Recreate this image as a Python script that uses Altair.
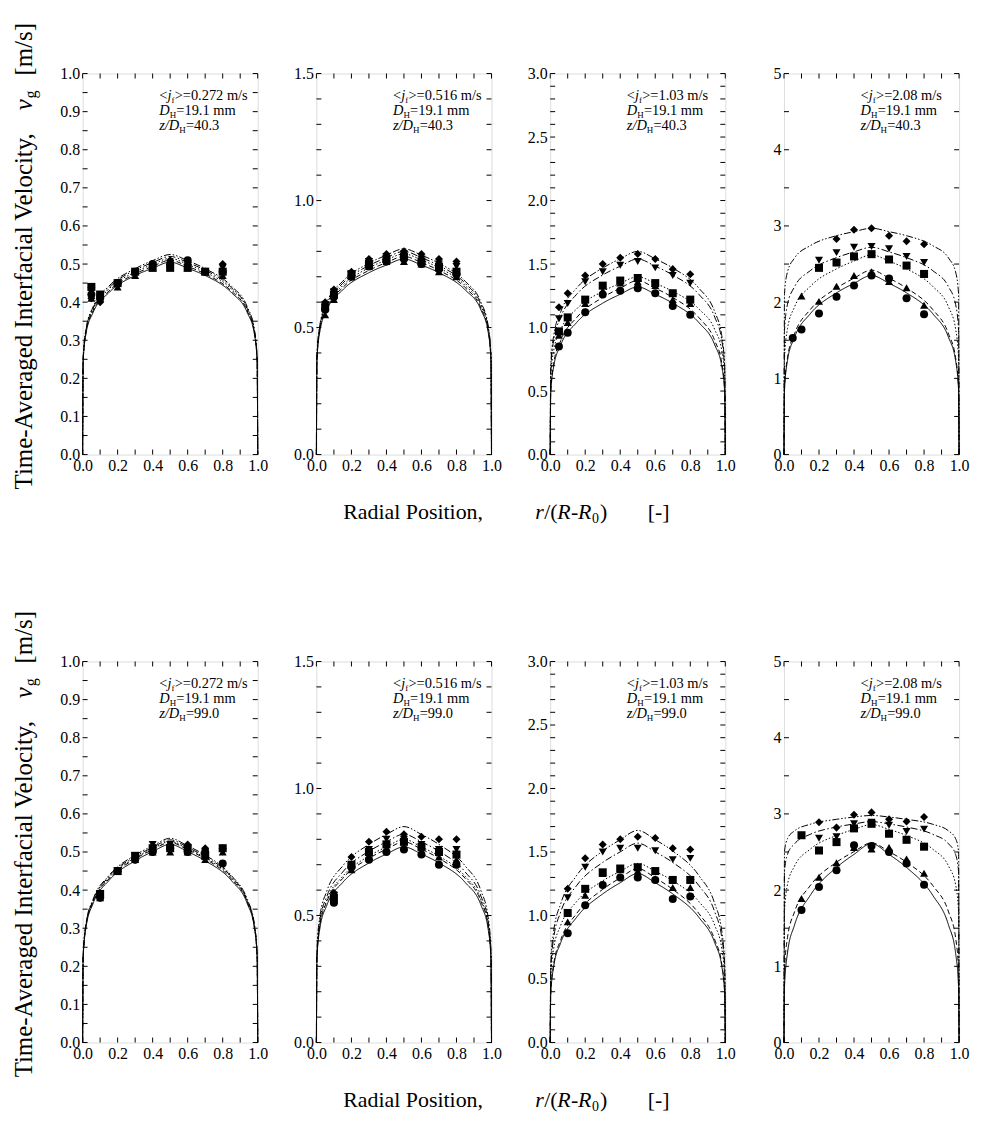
import altair as alt
import pandas as pd

FONT = "Liberation Serif"
SERIES = ["s1", "s2", "s3", "s4", "s5"]
SHAPES = ["circle", "triangle-up", "square", "triangle-down", "diamond"]
DASHES = [[1, 0], [5, 3], [1.5, 2], [7, 2.5, 1.5, 2.5], [7, 2, 1.5, 2, 1.5, 2]]

R_TOP = [0.05, 0.1, 0.2, 0.3, 0.4, 0.5, 0.6, 0.7, 0.8]
R_BOT = [0.1, 0.2, 0.3, 0.4, 0.5, 0.6, 0.7, 0.8]
R_FIT = [0, 0.003, 0.02, 0.06, 0.15, 0.3, 0.4, 0.5, 0.6, 0.7, 0.85, 0.94, 0.98, 0.997, 1.0]

JF = ["0.272", "0.516", "1.03", "2.08"]
ZD = ["40.3", "99.0"]
YMAX = [1.0, 1.5, 3.0, 5.0]
Y_LABELS = [
    [0.0, 0.1, 0.2, 0.3, 0.4, 0.5, 0.6, 0.7, 0.8, 0.9, 1.0],
    [0.0, 0.5, 1.0, 1.5],
    [0.0, 0.5, 1.0, 1.5, 2.0, 2.5, 3.0],
    [0, 1, 2, 3, 4, 5],
]
Y_FMT = [".1f", ".1f", ".1f", "d"]
Y_MINOR = [
    [0.05, 0.15, 0.25, 0.35, 0.45, 0.55, 0.65, 0.75, 0.85, 0.95],
    [0.1, 0.2, 0.3, 0.4, 0.6, 0.7, 0.8, 0.9, 1.1, 1.2, 1.3, 1.4],
    [0.1, 0.2, 0.3, 0.4, 0.6, 0.7, 0.8, 0.9, 1.1, 1.2, 1.3, 1.4, 1.6, 1.7, 1.8, 1.9, 2.1, 2.2, 2.3, 2.4, 2.6, 2.7, 2.8, 2.9],
    [0.5, 1.5, 2.5, 3.5, 4.5],
]
X_LABELS = [0.0, 0.2, 0.4, 0.6, 0.8, 1.0]
X_MINOR = [0.1, 0.3, 0.5, 0.7, 0.9]

# ---------------- top row (z/DH = 40.3) ----------------
T1_PTS = [
    [0.42, 0.41, 0.45, 0.48, 0.50, 0.50, 0.51, 0.48, 0.48],
    [0.41, 0.41, 0.44, 0.47, 0.49, 0.50, 0.49, 0.48, 0.47],
    [0.44, 0.42, 0.45, 0.48, 0.49, 0.49, 0.49, 0.48, 0.48],
    [0.43, 0.41, 0.44, 0.47, 0.49, 0.50, 0.49, 0.48, 0.49],
    [0.41, 0.40, 0.45, 0.48, 0.50, 0.51, 0.50, 0.48, 0.50],
]
T1_FIT = [
    [0, 0.243, 0.319, 0.373, 0.425, 0.470, 0.489, 0.505, 0.489, 0.470, 0.425, 0.373, 0.319, 0.243, 0],
    [0, 0.245, 0.322, 0.377, 0.429, 0.474, 0.494, 0.510, 0.494, 0.474, 0.429, 0.377, 0.322, 0.245, 0],
    [0, 0.248, 0.325, 0.381, 0.434, 0.479, 0.499, 0.515, 0.499, 0.479, 0.434, 0.381, 0.325, 0.248, 0],
    [0, 0.250, 0.328, 0.384, 0.438, 0.484, 0.504, 0.520, 0.504, 0.484, 0.438, 0.384, 0.328, 0.250, 0],
    [0, 0.253, 0.331, 0.388, 0.442, 0.488, 0.509, 0.525, 0.509, 0.488, 0.442, 0.388, 0.331, 0.253, 0],
]
T2_PTS = [
    [0.57, 0.62, 0.70, 0.74, 0.76, 0.77, 0.75, 0.73, 0.71],
    [0.55, 0.61, 0.70, 0.74, 0.76, 0.76, 0.75, 0.72, 0.70],
    [0.58, 0.63, 0.71, 0.75, 0.77, 0.78, 0.76, 0.74, 0.72],
    [0.59, 0.64, 0.71, 0.76, 0.78, 0.79, 0.77, 0.75, 0.74],
    [0.60, 0.65, 0.72, 0.77, 0.79, 0.80, 0.79, 0.77, 0.76],
]
T2_FIT = [
    [0, 0.370, 0.486, 0.569, 0.648, 0.716, 0.746, 0.770, 0.746, 0.716, 0.648, 0.569, 0.486, 0.370, 0],
    [0, 0.375, 0.492, 0.576, 0.657, 0.725, 0.756, 0.780, 0.756, 0.725, 0.657, 0.576, 0.492, 0.375, 0],
    [0, 0.380, 0.498, 0.584, 0.665, 0.735, 0.766, 0.790, 0.766, 0.735, 0.665, 0.584, 0.498, 0.380, 0],
    [0, 0.385, 0.505, 0.591, 0.674, 0.744, 0.775, 0.800, 0.775, 0.744, 0.674, 0.591, 0.505, 0.385, 0],
    [0, 0.390, 0.511, 0.599, 0.682, 0.753, 0.785, 0.810, 0.785, 0.753, 0.682, 0.599, 0.511, 0.390, 0],
]
T3_PTS = [
    [0.85, 0.96, 1.12, 1.26, 1.29, 1.31, 1.27, 1.17, 1.10],
    [0.94, 1.04, 1.19, 1.29, 1.35, 1.36, 1.33, 1.22, 1.19],
    [0.97, 1.08, 1.22, 1.33, 1.37, 1.39, 1.35, 1.27, 1.22],
    [1.07, 1.19, 1.36, 1.44, 1.49, 1.52, 1.47, 1.41, 1.35],
    [1.16, 1.27, 1.41, 1.50, 1.55, 1.58, 1.54, 1.46, 1.42],
]
T3_FIT = [
    [0, 0.475, 0.693, 0.863, 1.038, 1.192, 1.262, 1.320, 1.262, 1.192, 1.038, 0.863, 0.693, 0.475, 0],
    [0, 0.493, 0.719, 0.896, 1.077, 1.237, 1.310, 1.370, 1.310, 1.237, 1.077, 0.896, 0.719, 0.493, 0],
    [0, 0.596, 0.819, 0.983, 1.145, 1.285, 1.348, 1.400, 1.348, 1.285, 1.145, 0.983, 0.819, 0.596, 0],
    [0, 0.656, 0.901, 1.081, 1.260, 1.414, 1.483, 1.540, 1.483, 1.414, 1.260, 1.081, 0.901, 0.656, 0],
    [0, 0.682, 0.936, 1.123, 1.309, 1.469, 1.541, 1.600, 1.541, 1.469, 1.309, 1.123, 0.936, 0.682, 0],
]
T4_PTS = [
    [1.53, 1.64, 1.85, 2.07, 2.22, 2.35, 2.31, 2.05, 1.84],
    [None, 2.08, 2.01, 2.21, 2.35, 2.40, 2.27, 2.19, 1.96],
    [None, None, 2.45, 2.52, 2.60, 2.63, 2.56, 2.48, 2.37],
    [None, None, 2.55, 2.65, 2.72, 2.73, 2.70, 2.60, 2.52],
    [None, None, None, 2.83, 2.95, 2.97, 2.87, 2.80, 2.76],
]
T4_FIT = [
    [0, 0.846, 1.234, 1.537, 1.847, 2.122, 2.247, 2.350, 2.247, 2.122, 1.847, 1.537, 1.234, 0.846, 0],
    [0, 0.871, 1.271, 1.583, 1.902, 2.185, 2.314, 2.420, 2.314, 2.185, 1.902, 1.583, 1.271, 0.871, 0],
    [0, 1.260, 1.653, 1.936, 2.206, 2.437, 2.539, 2.620, 2.539, 2.437, 2.206, 1.936, 1.653, 1.260, 0],
    [0, 1.632, 1.972, 2.200, 2.413, 2.584, 2.660, 2.720, 2.660, 2.584, 2.413, 2.200, 1.972, 1.632, 0],
    [0, 2.112, 2.397, 2.578, 2.741, 2.872, 2.925, 2.970, 2.925, 2.872, 2.741, 2.578, 2.397, 2.112, 0],
]

# ---------------- bottom row (z/DH = 99.0) ----------------
B1_PTS = [
    [0.38, 0.45, 0.48, 0.50, 0.51, 0.50, 0.50, 0.47],
    [0.38, 0.45, 0.48, 0.50, 0.50, 0.50, 0.48, 0.50],
    [0.39, 0.45, 0.49, 0.51, 0.51, 0.51, 0.49, 0.51],
    [0.38, 0.45, 0.49, 0.52, 0.52, 0.51, 0.50, 0.50],
    [0.38, 0.45, 0.48, 0.50, 0.52, 0.52, 0.51, 0.51],
]
B1_FIT = [
    [0, 0.222, 0.304, 0.365, 0.425, 0.477, 0.501, 0.520, 0.501, 0.477, 0.425, 0.365, 0.304, 0.222, 0],
    [0, 0.224, 0.307, 0.369, 0.429, 0.482, 0.506, 0.525, 0.506, 0.482, 0.429, 0.369, 0.307, 0.224, 0],
    [0, 0.225, 0.309, 0.371, 0.432, 0.485, 0.508, 0.528, 0.508, 0.485, 0.432, 0.371, 0.309, 0.225, 0],
    [0, 0.227, 0.311, 0.373, 0.435, 0.488, 0.512, 0.532, 0.512, 0.488, 0.435, 0.373, 0.311, 0.227, 0],
    [0, 0.228, 0.314, 0.376, 0.438, 0.492, 0.516, 0.536, 0.516, 0.492, 0.438, 0.376, 0.314, 0.228, 0],
]
B2_PTS = [
    [0.55, 0.69, 0.72, 0.75, 0.76, 0.74, 0.70, 0.70],
    [0.56, 0.68, 0.73, 0.76, 0.77, 0.75, 0.73, 0.72],
    [0.57, 0.70, 0.75, 0.78, 0.79, 0.77, 0.75, 0.74],
    [0.58, 0.69, 0.76, 0.80, 0.80, 0.78, 0.76, 0.76],
    [0.59, 0.73, 0.79, 0.83, 0.82, 0.81, 0.80, 0.80],
]
B2_FIT = [
    [0, 0.328, 0.450, 0.541, 0.630, 0.707, 0.742, 0.770, 0.742, 0.707, 0.630, 0.541, 0.450, 0.328, 0],
    [0, 0.337, 0.462, 0.555, 0.646, 0.725, 0.761, 0.790, 0.761, 0.725, 0.646, 0.555, 0.462, 0.337, 0],
    [0, 0.341, 0.468, 0.562, 0.654, 0.734, 0.770, 0.800, 0.770, 0.734, 0.654, 0.562, 0.468, 0.341, 0],
    [0, 0.349, 0.480, 0.576, 0.671, 0.753, 0.790, 0.820, 0.790, 0.753, 0.671, 0.576, 0.480, 0.349, 0],
    [0, 0.362, 0.497, 0.597, 0.695, 0.780, 0.819, 0.850, 0.819, 0.780, 0.695, 0.597, 0.497, 0.362, 0],
]
B3_PTS = [
    [0.86, 1.08, 1.24, 1.30, 1.30, 1.28, 1.13, 1.15],
    [0.95, 1.16, 1.33, 1.36, 1.35, 1.29, 1.22, 1.22],
    [1.02, 1.21, 1.34, 1.37, 1.38, 1.35, 1.28, 1.28],
    [1.14, 1.38, 1.50, 1.53, 1.53, 1.51, 1.44, 1.45],
    [1.21, 1.45, 1.56, 1.60, 1.62, 1.61, 1.53, 1.52],
]
B3_FIT = [
    [0, 0.372, 0.599, 0.785, 0.984, 1.170, 1.258, 1.330, 1.258, 1.170, 0.984, 0.785, 0.599, 0.372, 0],
    [0, 0.384, 0.617, 0.808, 1.014, 1.206, 1.296, 1.370, 1.296, 1.206, 1.014, 0.808, 0.617, 0.384, 0],
    [0, 0.508, 0.740, 0.922, 1.108, 1.273, 1.348, 1.410, 1.348, 1.273, 1.108, 0.922, 0.740, 0.508, 0],
    [0, 0.565, 0.824, 1.027, 1.234, 1.418, 1.501, 1.570, 1.501, 1.418, 1.234, 1.027, 0.824, 0.565, 0],
    [0, 0.601, 0.877, 1.092, 1.313, 1.508, 1.597, 1.670, 1.597, 1.508, 1.313, 1.092, 0.877, 0.601, 0],
]
B4_PTS = [
    [1.74, 2.04, 2.26, 2.59, 2.58, 2.50, 2.35, 2.07],
    [1.89, 2.17, 2.36, 2.56, 2.54, 2.56, 2.41, 2.22],
    [2.72, 2.52, 2.63, 2.81, 2.87, 2.74, 2.66, 2.57],
    [None, 2.68, 2.70, 2.87, 2.89, 2.85, 2.77, 2.80],
    [None, 2.89, 2.82, 2.99, 3.02, 2.93, 2.90, 2.96],
]
B4_FIT = [
    [0, 0.731, 1.175, 1.540, 1.931, 2.297, 2.469, 2.610, 2.469, 2.297, 1.931, 1.540, 1.175, 0.731, 0],
    [0, 0.943, 1.376, 1.713, 2.059, 2.366, 2.505, 2.620, 2.505, 2.366, 2.059, 1.713, 1.376, 0.943, 0],
    [0, 1.716, 2.074, 2.314, 2.537, 2.717, 2.797, 2.860, 2.797, 2.717, 2.537, 2.314, 2.074, 1.716, 0],
    [0, 2.245, 2.468, 2.607, 2.732, 2.828, 2.868, 2.900, 2.868, 2.828, 2.732, 2.607, 2.468, 2.245, 0],
    [0, 2.512, 2.676, 2.777, 2.864, 2.929, 2.959, 2.980, 2.959, 2.929, 2.864, 2.777, 2.676, 2.512, 0],
]

W, H = 176, 383
TICK = 5
ONE = pd.DataFrame({"a": [0]})


def txt(s, x, y, size=14.5, style="normal", align="left", angle=0, baseline="alphabetic"):
    kw = dict(text=s, font=FONT, fontSize=size, fontStyle=style, align=align,
              baseline=baseline, color="black")
    if angle:
        kw["angle"] = angle
    return alt.Chart(ONE).mark_text(**kw).encode(x=alt.value(x), y=alt.value(y))


def annotation(jf, zd):
    x0, y1, dy, sub, sh = 77, 27, 15, 9, 2.5
    return [
        txt("<", x0, y1), txt("j", x0 + 8.2, y1, style="italic"),
        txt("f", x0 + 12.3, y1 + sh, size=sub), txt(">=" + jf + " m/s", x0 + 15.5, y1),
        txt("D", x0, y1 + dy, style="italic"), txt("H", x0 + 10.5, y1 + dy + sh, size=sub),
        txt("=19.1 mm", x0 + 17.2, y1 + dy),
        txt("z/D", x0, y1 + 2 * dy, style="italic"), txt("H", x0 + 20.1, y1 + 2 * dy + sh, size=sub),
        txt("=" + zd, x0 + 26.8, y1 + 2 * dy),
    ]


def ytitle():
    x, y0, fs = -59, 418, 25
    L = [txt("Time-Averaged Interfacial Velocity,", x, y0, size=fs, angle=270, baseline="middle")]
    y = y0 - 366 - 15
    L.append(txt("v", x, y, size=fs, style="italic", angle=270, baseline="middle"))
    L.append(txt("g", x + 7, y - 12, size=16, angle=270, baseline="middle"))
    L.append(txt("[m/s]", x, y - 12 - 8 - 15, size=fs, angle=270, baseline="middle"))
    return L


def xtitle():
    y, fs = 441, 22
    return [
        txt("Radial Position,", 27, y, size=fs, baseline="middle"),
        txt("r", 220, y, size=fs, style="italic", baseline="middle"),
        txt("/(", 229, y, size=fs, baseline="middle"),
        txt("R", 242, y, size=fs, style="italic", baseline="middle"),
        txt("-", 256, y, size=fs, baseline="middle"),
        txt("R", 263, y, size=fs, style="italic", baseline="middle"),
        txt("0", 277, y + 7, size=14, baseline="middle"),
        txt(")", 285, y, size=fs, baseline="middle"),
        txt("[-]", 333, y, size=fs, baseline="middle"),
    ]


def panel(k, r_pts, pts, fit, zd, first, with_xtitle):
    rows = [{"r": r, "v": v, "s": SERIES[i]}
            for i, ser in enumerate(pts) for r, v in zip(r_pts, ser) if v is not None]
    df_pts = pd.DataFrame(rows)
    df_fit = pd.DataFrame([{"r": r, "v": v, "s": SERIES[i], "o": j}
                           for i, ser in enumerate(fit) for j, (r, v) in enumerate(zip(R_FIT, ser))])
    xs = alt.Scale(domain=[0, 1], nice=False, zero=False)
    ys = alt.Scale(domain=[0, YMAX[k]], nice=False, zero=False)
    xax = alt.Axis(values=X_LABELS, format=".1f", ticks=False, domain=False, grid=False,
                   labelFlush=False, labelOverlap=False, labelFont=FONT, labelFontSize=16,
                   labelColor="black", labelPadding=3, title=None)
    yax = alt.Axis(values=Y_LABELS[k], format=Y_FMT[k], ticks=False, domain=False, grid=False,
                   labelFlush=False, labelOverlap=False, labelFont=FONT, labelFontSize=16,
                   labelColor="black", labelPadding=3, title=None)
    X = alt.X("r:Q", scale=xs, axis=xax)
    Y = alt.Y("v:Q", scale=ys, axis=yax)

    lines = alt.Chart(df_fit).mark_line(color="black", strokeWidth=1, interpolate="monotone").encode(
        x=X, y=Y, order="o:Q",
        strokeDash=alt.StrokeDash("s:N", scale=alt.Scale(domain=SERIES, range=DASHES), legend=None),
    )
    points = alt.Chart(df_pts).mark_point(filled=True, color="black", opacity=1, size=65).encode(
        x=X, y=Y,
        shape=alt.Shape("s:N", scale=alt.Scale(domain=SERIES, range=SHAPES), legend=None),
    )
    xt = pd.DataFrame({"r": X_LABELS + X_MINOR})
    yt = pd.DataFrame({"v": Y_LABELS[k] + Y_MINOR[k]})
    ticks = [
        alt.Chart(xt).mark_rule(color="black", strokeWidth=1).encode(x=X, y=alt.value(H), y2=alt.value(H - TICK)),
        alt.Chart(xt).mark_rule(color="black", strokeWidth=1).encode(x=X, y=alt.value(0), y2=alt.value(TICK)),
        alt.Chart(yt).mark_rule(color="black", strokeWidth=1).encode(y=Y, x=alt.value(0), x2=alt.value(TICK)),
        alt.Chart(yt).mark_rule(color="black", strokeWidth=1).encode(y=Y, x=alt.value(W), x2=alt.value(W - TICK)),
    ]
    layers = [lines, points] + ticks + annotation(JF[k], zd)
    if first:
        layers += ytitle()
    if with_xtitle:
        layers += xtitle()
    return alt.layer(*layers).properties(width=W, height=H)


top = alt.hconcat(
    panel(0, R_TOP, T1_PTS, T1_FIT, ZD[0], True, False),
    panel(1, R_TOP, T2_PTS, T2_FIT, ZD[0], False, True),
    panel(2, R_TOP, T3_PTS, T3_FIT, ZD[0], False, False),
    panel(3, R_TOP, T4_PTS, T4_FIT, ZD[0], False, False),
    spacing=59, bounds="flush",
)
bottom = alt.hconcat(
    panel(0, R_BOT, B1_PTS, B1_FIT, ZD[1], True, False),
    panel(1, R_BOT, B2_PTS, B2_FIT, ZD[1], False, True),
    panel(2, R_BOT, B3_PTS, B3_FIT, ZD[1], False, False),
    panel(3, R_BOT, B4_PTS, B4_FIT, ZD[1], False, False),
    spacing=59, bounds="flush",
)
chart = alt.vconcat(top, bottom, spacing=591, bounds="flush").properties(
    padding={"left": 3, "top": 11, "right": 4, "bottom": 2}
).configure_view(stroke="black", strokeWidth=1.5).configure(background="white")

chart.save("out.html", embed_options={"renderer": "svg", "actions": False})
